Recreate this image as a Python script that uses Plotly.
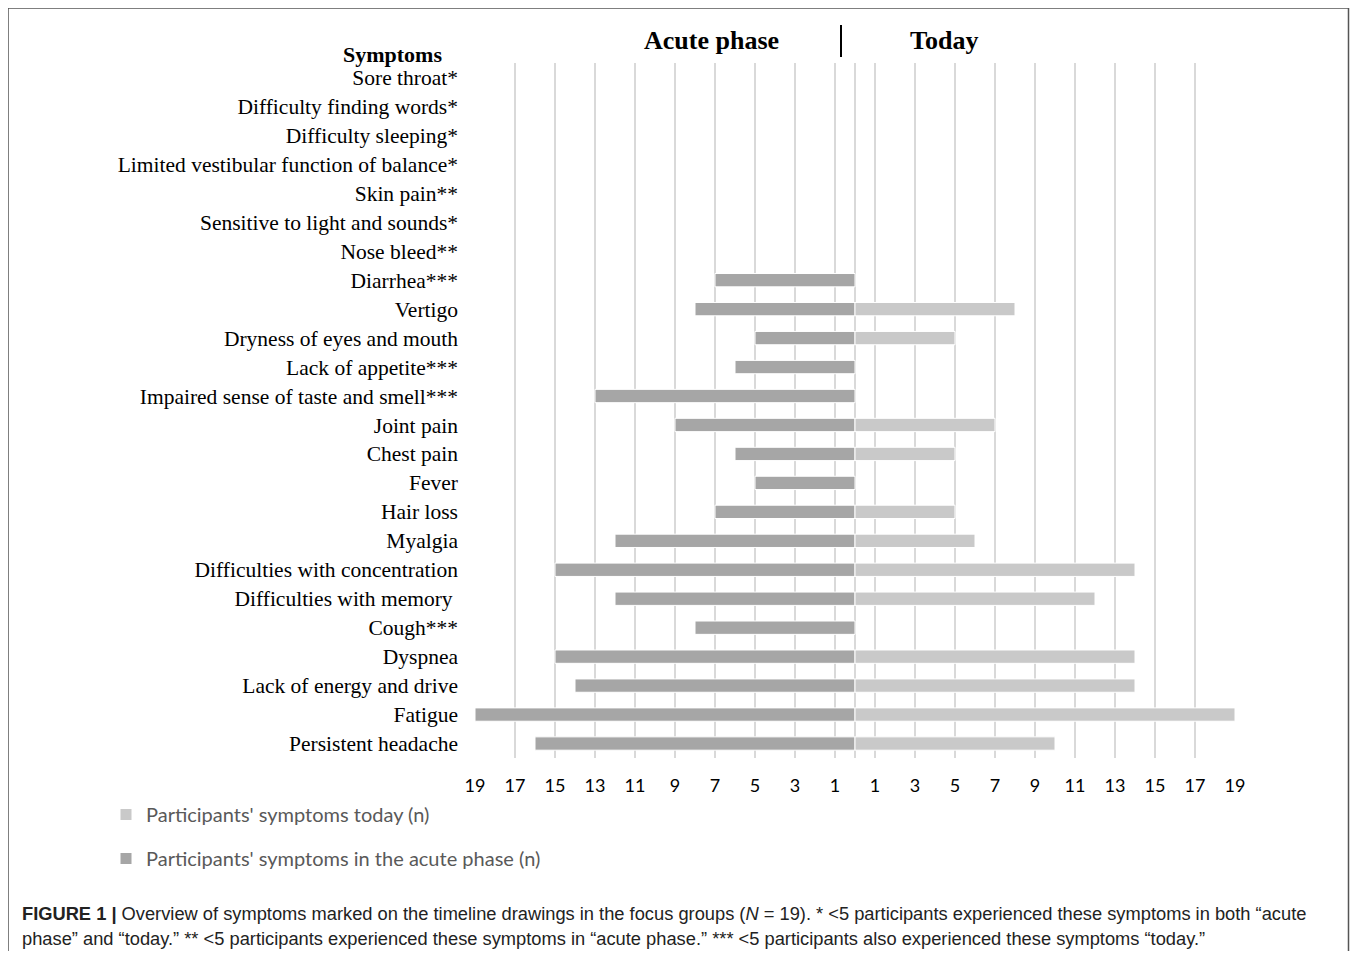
import plotly.graph_objects as go

symptoms = [
    "Sore throat*", "Difficulty finding words*", "Difficulty sleeping*",
    "Limited vestibular function of balance*", "Skin pain**",
    "Sensitive to light and sounds*", "Nose bleed**", "Diarrhea***", "Vertigo",
    "Dryness of eyes and mouth", "Lack of appetite***",
    "Impaired sense of taste and smell***", "Joint pain", "Chest pain", "Fever",
    "Hair loss", "Myalgia", "Difficulties with concentration",
    "Difficulties with memory ", "Cough***", "Dyspnea", "Lack of energy and drive",
    "Fatigue", "Persistent headache",
]
acute = [0, 0, 0, 0, 0, 0, 0, 7, 8, 5, 6, 13, 9, 6, 5, 7, 12, 15, 12, 8, 15, 14, 19, 16]
today = [0, 0, 0, 0, 0, 0, 0, 0, 8, 5, 0, 0, 7, 5, 0, 5, 6, 14, 12, 0, 14, 14, 19, 10]
tick_vals = [-19, -17, -15, -13, -11, -9, -7, -5, -3, -1, 1, 3, 5, 7, 9, 11, 13, 15, 17, 19]
tick_text = [str(abs(v)) for v in tick_vals]

ACUTE_C = "#a6a6a6"
TODAY_C = "#c9c9c9"

fig = go.Figure()
fig.add_trace(go.Bar(
    y=symptoms, x=[-v if v else None for v in acute], orientation="h", width=0.46,
    marker=dict(color=ACUTE_C, line=dict(color="white", width=1)),
    name="Participants' symptoms in the acute phase (n)", legendgroup="a", legendrank=2,
    customdata=acute, hovertemplate="%{y}: %{customdata}<extra></extra>",
))
fig.add_trace(go.Bar(
    y=symptoms, x=[v if v else None for v in today], orientation="h", width=0.46,
    marker=dict(color=TODAY_C, line=dict(color="white", width=1)),
    name="Participants' symptoms today (n)", legendgroup="t", legendrank=1,
    hovertemplate="%{y}: %{x}<extra></extra>",
))

OFF = 8  # page body margin
W, H = 1358 - 2 * OFF, 959 - 2 * OFF
L, T = 475 - OFF, 63 - OFF
R = W - (1235 - OFF)
B = H - (758 - OFF)
pw, ph = W - L - R, H - T - B

def px(x):
    return (x - OFF - L) / pw

def py(y):
    return (H - B - (y - OFF)) / ph

fig.update_layout(
    width=W, height=H, barmode="relative", bargap=0.5,
    margin=dict(l=L, r=R, t=T, b=B),
    paper_bgcolor="white", plot_bgcolor="white",
    xaxis=dict(range=[-19, 19], tickvals=tick_vals, ticktext=tick_text,
               showgrid=True, gridcolor="#d9d9d9", gridwidth=1.5,
               zeroline=True, zerolinecolor="#d9d9d9", zerolinewidth=1.5,
               showline=False, ticks="", ticklabelstandoff=15,
               tickfont=dict(family="Lato", size=18, color="#000000")),
    yaxis=dict(autorange="reversed", showgrid=False, ticks="", showline=False,
               ticklabelstandoff=16,
               tickfont=dict(family="Liberation Serif", size=21.5, color="#000000")),
    legend=dict(x=px(106), y=py(795), xanchor="left", yanchor="top",
                traceorder="grouped", tracegroupgap=15,
                font=dict(family="Lato", size=20, color="#595959"),
                bgcolor="rgba(0,0,0,0)", itemwidth=30),
    showlegend=True,
)

fig.add_annotation(xref="paper", yref="paper", x=px(711), y=py(41), text="<b>Acute phase</b>",
                   showarrow=False, xanchor="center", yanchor="middle",
                   font=dict(family="Liberation Serif", size=26, color="#000000"))
fig.add_annotation(xref="paper", yref="paper", x=px(944), y=py(41), text="<b>Today</b>",
                   showarrow=False, xanchor="center", yanchor="middle",
                   font=dict(family="Liberation Serif", size=26, color="#000000"))
fig.add_annotation(xref="paper", yref="paper", x=px(392), y=py(55), text="<b>Symptoms</b>",
                   showarrow=False, xanchor="center", yanchor="middle",
                   font=dict(family="Liberation Serif", size=22, color="#000000"))
fig.add_shape(type="line", xref="paper", yref="paper", x0=px(841), x1=px(841),
              y0=py(25), y1=py(57), line=dict(color="black", width=2))
fig.add_shape(type="rect", xref="paper", yref="paper", x0=px(8), x1=px(1348.5),
              y0=py(990), y1=py(8), line=dict(color="#555555", width=1.5),
              fillcolor="rgba(0,0,0,0)", layer="above")

cap1 = ("<b>FIGURE 1 |</b> Overview of symptoms marked on the timeline drawings in the focus groups "
        "(<i>N</i> = 19). * <5 participants experienced these symptoms in both \u201cacute")
cap2 = ("phase\u201d and \u201ctoday.\u201d ** <5 participants experienced these symptoms in \u201cacute phase.\u201d "
        "*** <5 participants also experienced these symptoms \u201ctoday.\u201d")
for txt, yy in [(cap1, 913), (cap2, 938)]:
    fig.add_annotation(xref="paper", yref="paper", x=px(20), y=py(yy), text=txt,
                       showarrow=False, xanchor="left", yanchor="middle", align="left",
                       font=dict(family="Liberation Sans", size=18.3, color="#222222"))

fig.write_html("out.html")
